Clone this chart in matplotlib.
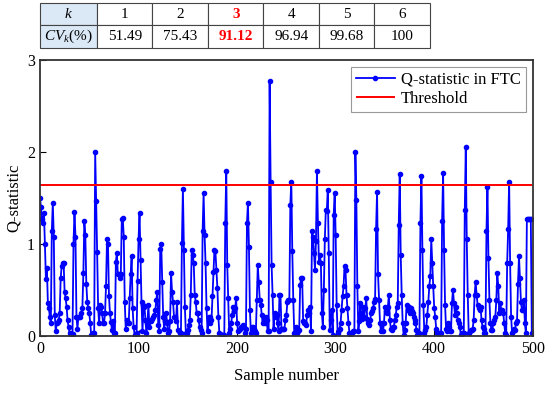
import numpy as np
import matplotlib.pyplot as plt

plt.rcParams['font.family'] = 'Liberation Serif'
plt.rcParams['mathtext.fontset'] = 'custom'
plt.rcParams['mathtext.rm'] = 'Liberation Serif'
plt.rcParams['mathtext.it'] = 'Liberation Serif:italic'

# table data
k_values = ['1', '2', '3', '4', '5', '6']
cv_values = ['51.49', '75.43', '91.12', '96.94', '99.68', '100']
chosen_col = 3  # column of k = 3 (after the label column)

# Q-statistic per sample
q_stat = [
    1.50, 1.40, 1.27, 1.23, 1.34, 1.00, 0.62, 0.74, 0.36, 0.31,
    0.21, 0.14, 1.14, 1.45, 1.08, 0.23, 0.05, 0.14, 0.15, 0.17,
    0.25, 0.63, 0.76, 0.79, 0.79, 0.48, 0.41, 0.32, 0.17, 0.10,
    0.03, 0.01, 0.00, 0.02, 1.00, 1.35, 1.08, 0.21, 0.08, 0.21,
    0.21, 0.21, 0.25, 0.30, 0.68, 1.25, 1.10, 0.57, 0.37, 0.30,
    0.25, 0.14, 0.01, 0.02, 0.03, 0.03, 2.00, 1.47, 0.91, 0.30,
    0.14, 0.34, 0.32, 0.25, 0.14, 0.14, 0.25, 0.54, 1.05, 1.00,
    0.43, 0.25, 0.15, 0.07, 0.16, 0.03, 0.03, 0.81, 0.90, 0.67,
    0.67, 0.63, 0.67, 1.27, 1.28, 1.08, 0.37, 0.08, 0.17, 0.14,
    0.14, 0.41, 0.67, 0.87, 0.30, 0.10, 0.01, 0.01, 0.03, 0.60,
    1.05, 1.34, 0.83, 0.37, 0.05, 0.34, 0.32, 0.17, 0.03, 0.14,
    0.34, 0.10, 0.16, 0.16, 0.18, 0.21, 0.23, 0.28, 0.39, 0.48,
    0.12, 0.05, 0.95, 1.00, 0.59, 0.21, 0.08, 0.16, 0.25, 0.14,
    0.03, 0.05, 0.16, 0.68, 0.48, 0.37, 0.21, 0.21, 0.16, 0.37,
    0.07, 0.05, 0.03, 0.03, 1.01, 1.60, 0.94, 0.32, 0.03, 0.03,
    0.07, 0.12, 0.17, 0.45, 0.94, 0.88, 0.79, 0.45, 0.37, 0.25,
    0.25, 0.17, 0.10, 0.07, 0.03, 1.14, 1.55, 1.10, 0.79, 0.30,
    0.05, 0.21, 0.14, 0.21, 0.17, 0.43, 0.70, 0.94, 0.92, 0.72,
    0.52, 0.21, 0.03, 0.02, 0.01, 0.01, 0.01, 0.01, 1.23, 1.79,
    0.77, 0.41, 0.03, 0.08, 0.14, 0.23, 0.32, 0.27, 0.30, 0.41,
    0.14, 0.05, 0.07, 0.08, 0.10, 0.10, 0.12, 0.10, 0.03, 0.08,
    1.23, 1.45, 0.97, 0.28, 0.03, 0.10, 0.10, 0.08, 0.05, 0.03,
    0.39, 0.77, 0.59, 0.39, 0.34, 0.23, 0.14, 0.17, 0.14, 0.21,
    0.17, 0.05, 0.05, 2.77, 1.68, 0.77, 0.45, 0.08, 0.25, 0.21,
    0.23, 0.14, 0.05, 0.45, 0.45, 0.08, 0.08, 0.08, 0.08, 0.17,
    0.23, 0.37, 0.39, 0.39, 1.43, 1.68, 0.92, 0.39, 0.03, 0.03,
    0.10, 0.03, 0.05, 0.07, 0.56, 0.63, 0.63, 0.16, 0.14, 0.14,
    0.12, 0.23, 0.28, 0.25, 0.32, 0.05, 1.14, 1.08, 0.90, 0.72,
    1.03, 1.79, 1.23, 0.81, 0.88, 0.79, 0.25, 0.10, 0.50, 1.05,
    1.37, 1.36, 1.59, 0.90, 0.07, 0.17, 0.28, 0.01, 1.32, 1.56,
    1.10, 0.34, 0.03, 0.07, 0.08, 0.14, 0.28, 0.43, 0.54, 0.76,
    0.72, 0.45, 0.30, 0.14, 0.03, 0.01, 0.03, 0.03, 0.05, 0.05,
    2.00, 1.48, 0.54, 0.05, 0.16, 0.36, 0.23, 0.19, 0.32, 0.21,
    0.30, 0.41, 0.19, 0.14, 0.12, 0.17, 0.25, 0.27, 0.30, 0.37,
    0.40, 1.16, 1.57, 0.67, 0.39, 0.14, 0.05, 0.14, 0.05, 0.14,
    0.32, 0.27, 0.25, 0.32, 0.45, 0.17, 0.08, 0.07, 0.10, 0.10,
    0.17, 0.23, 0.32, 0.36, 1.21, 1.76, 0.88, 0.45, 0.14, 0.01,
    0.07, 0.14, 0.34, 0.28, 0.32, 0.25, 0.30, 0.27, 0.25, 0.21,
    0.17, 0.14, 0.07, 0.01, 0.03, 0.03, 1.23, 1.74, 0.94, 0.34,
    0.03, 0.07, 0.10, 0.23, 0.37, 0.54, 0.65, 1.05, 0.79, 0.54,
    0.30, 0.21, 0.08, 0.03, 0.03, 0.03, 0.03, 0.03, 1.25, 1.77,
    0.94, 0.34, 0.08, 0.05, 0.14, 0.10, 0.05, 0.05, 0.36, 0.50,
    0.36, 0.23, 0.32, 0.25, 0.17, 0.14, 0.10, 0.01, 0.03, 0.03,
    0.03, 1.37, 2.05, 1.05, 0.45, 0.03, 0.05, 0.07, 0.07, 0.08,
    0.17, 0.45, 0.59, 0.45, 0.34, 0.30, 0.28, 0.32, 0.17, 0.10,
    0.08, 0.03, 0.03, 1.14, 1.62, 0.85, 0.39, 0.14, 0.07, 0.07,
    0.14, 0.17, 0.21, 0.39, 0.68, 0.54, 0.25, 0.36, 0.28, 0.28,
    0.25, 0.14, 0.03, 0.01, 0.79, 1.16, 1.68, 0.79, 0.21, 0.03,
    0.05, 0.08, 0.07, 0.14, 0.16, 0.57, 0.87, 0.63, 0.37, 0.28,
    0.28, 0.39, 0.14, 0.03, 1.27, 1.27, 1.27, 1.27, 1.27, 0.03,
]
threshold = 1.64

fig = plt.figure(figsize=(5.5, 3.93), dpi=100)
ax = fig.add_axes([0.0727, 0.145, 0.896, 0.702])

samples = np.arange(len(q_stat))
ax.plot(samples, q_stat, '-o', color='blue', lw=1.3, ms=3,
        label='Q-statistic in FTC')
ax.hlines(threshold, samples[0], samples[-1], color='red', lw=1.4,
          label='Threshold')

ax.set_xlim(0, 500)
ax.set_ylim(0, 3)
ax.set_xticks([0, 100, 200, 300, 400, 500])
ax.set_yticks([0, 1, 2, 3])
ax.tick_params(direction='in', labelsize=11.5, length=4, width=0.8)
for s in ax.spines.values():
    s.set_linewidth(1.3)
    s.set_color('#333333')
ax.set_xlabel('Sample number', fontsize=12, labelpad=8)
ax.set_ylabel('Q-statistic', fontsize=12, labelpad=4)

leg = ax.legend(loc='upper right', fontsize=12, fancybox=False,
                edgecolor='#999999', framealpha=1, handlelength=2.3,
                borderaxespad=0.4, borderpad=0.3, labelspacing=0.2,
                handletextpad=0.4)
leg.get_frame().set_linewidth(0.8)

# table above the plot
tax = fig.add_axes([0.0727, 0.878, 0.709, 0.1145])
tax.axis('off')
cells = [['$k$'] + k_values, ['$CV_k$(%)'] + cv_values]
widths = [57 / 390] + [55.5 / 390] * len(k_values)
tbl = tax.table(cellText=cells, cellLoc='center', colWidths=widths,
                bbox=[0, 0, 1, 1])
tbl.auto_set_font_size(False)
for (r, c), cell in tbl.get_celld().items():
    cell.set_edgecolor('#444444')
    cell.set_linewidth(0.8)
    cell.get_text().set_fontsize(11)
    if c == 0:
        cell.set_facecolor('#dbe9f6')
    if c == chosen_col:
        cell.get_text().set_color('red')
        cell.get_text().set_fontweight('bold')

fig.savefig('out.png', dpi=100)
